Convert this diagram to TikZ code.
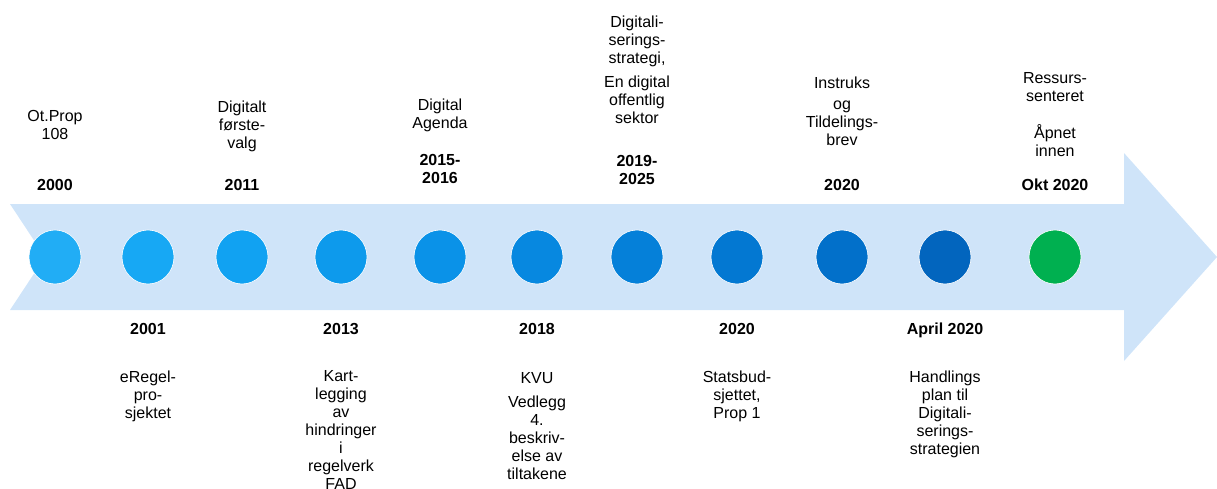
\documentclass[tikz,border=0pt]{standalone}
\usepackage{fontspec}
\setmainfont{Liberation Sans}
\definecolor{arrowfill}{HTML}{CFE4F9}
\definecolor{c1}{HTML}{21ADF5}
\definecolor{c2}{HTML}{17A8F4}
\definecolor{c3}{HTML}{11A2F2}
\definecolor{c4}{HTML}{0D9AEC}
\definecolor{c5}{HTML}{0A92E8}
\definecolor{c6}{HTML}{0788E0}
\definecolor{c7}{HTML}{0580D9}
\definecolor{c8}{HTML}{0378D2}
\definecolor{c9}{HTML}{0270CA}
\definecolor{c10}{HTML}{0265BE}
\definecolor{c11}{HTML}{00B050}
\tikzset{
  dot/.style={ellipse, minimum width=52pt, minimum height=54pt, inner sep=0pt, draw=white, line width=0.6pt},
  lbl/.style={align=center, anchor=north, inner sep=0pt, yshift=12.6pt, font=\fontsize{16}{18}\selectfont, execute at begin node=\strut},
  yr/.style={lbl, font=\fontsize{16}{18}\selectfont\bfseries},
}
\usetikzlibrary{shapes.geometric}
\begin{document}
\begin{tikzpicture}[x=1pt,y=-1pt]
\useasboundingbox (0,0) rectangle (1217,488);
\fill[arrowfill] (10,204) -- (1124,204) -- (1124,153) -- (1217,257) -- (1124,361) -- (1124,310) -- (10,310) -- (45,257) -- cycle;
\node[dot, fill=c1] (d1) at (55,257) {};
\node[dot, fill=c2] (d2) at (148,257) {};
\node[dot, fill=c3] (d3) at (242,257) {};
\node[dot, fill=c4] (d4) at (341,257) {};
\node[dot, fill=c5] (d5) at (440,257) {};
\node[dot, fill=c6] (d6) at (537,257) {};
\node[dot, fill=c7] (d7) at (637,257) {};
\node[dot, fill=c8] (d8) at (737,257) {};
\node[dot, fill=c9] (d9) at (842,257) {};
\node[dot, fill=c10] (d10) at (945,257) {};
\node[dot, fill=c11] (d11) at (1055,257) {};
% top labels
\node[lbl] (t1) at (55,123) {Ot.Prop\\108};
\node[yr] (y1) at (55,190) {2000};
\node[lbl] (t3) at (242,113) {Digitalt\\første-\\valg};
\node[yr] (y3) at (242,190) {2011};
\node[lbl] (t5) at (440,111) {Digital\\Agenda};
\node[yr] (y5) at (440,167) {2015-\\2016};
\node[lbl] (t7a) at (637,28) {Digitali-\\serings-\\strategi,};
\node[lbl] (t7b) at (637,88) {En digital\\offentlig\\sektor};
\node[yr] (y7) at (637,168) {2019-\\2025};
\node[lbl] (t9a) at (842,88) {Instruks};
\node[lbl] (t9b) at (842,113) {og\\Tildelings-\\brev};
\node[yr] (y9) at (842,190) {2020};
\node[lbl] (t11a) at (1055,85) {Ressurs-\\senteret};
\node[lbl] (t11b) at (1055,137) {Åpnet\\innen};
\node[yr] (y11) at (1055,190) {Okt 2020};
% bottom labels
\node[yr] (y2) at (148,334) {2001};
\node[lbl] (b2) at (148,383) {eRegel-\\pro-\\sjektet};
\node[yr] (y4) at (341,334) {2013};
\node[lbl] (b4) at (341,383) {Kart-\\legging\\av\\hindringer\\i\\regelverk\\FAD};
\node[yr] (y6) at (537,334) {2018};
\node[lbl] (b6a) at (537,383) {KVU};
\node[lbl] (b6b) at (537,408) {Vedlegg\\4.\\beskriv-\\else av\\tiltakene};
\node[yr] (y8) at (737,334) {2020};
\node[lbl] (b8) at (737,383) {Statsbud-\\sjettet,\\Prop 1};
\node[yr] (y10) at (945,334) {April 2020};
\node[lbl] (b10) at (945,383) {Handlings\\plan til\\Digitali-\\serings-\\strategien};
\end{tikzpicture}
\end{document}
